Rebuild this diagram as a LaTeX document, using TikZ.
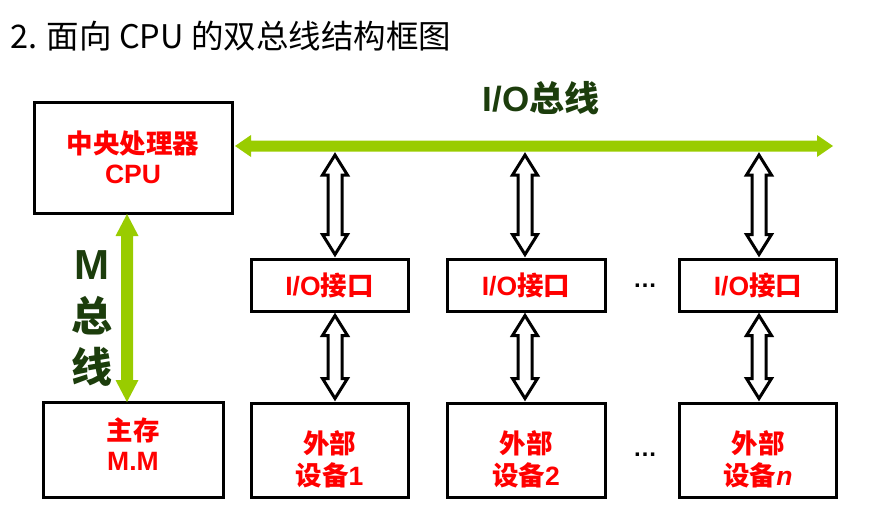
\documentclass[tikz,border=0pt]{standalone}
\usepackage{fontspec}
\setmainfont{Noto Sans CJK SC}
\newfontfamily\arialf{Liberation Sans}
\usetikzlibrary{calc}
\definecolor{busgreen}{HTML}{99CC00}
\definecolor{labgreen}{HTML}{1C3D0C}
\definecolor{boxred}{HTML}{FF0000}
% hollow vertical double arrow between two points (first above second)
\newcommand\hollowarrow[2]{%
  \draw[hollowarr] let \p1=(#1), \p2=(#2) in
   (\x1,\y1) -- (\x1+12.5pt,\y1-20pt) -- (\x1+7pt,\y1-20pt) -- (\x1+7pt,\y2+20pt)
   -- (\x1+12.5pt,\y2+20pt) -- (\x1,\y2) -- (\x1-12.5pt,\y2+20pt) -- (\x1-7pt,\y2+20pt)
   -- (\x1-7pt,\y1-20pt) -- (\x1-12.5pt,\y1-20pt) -- cycle;}
% green horizontal double arrow
\newcommand\greenhbus[2]{%
  \fill[busgreen] let \p1=(#1), \p2=(#2) in
   (\x1,\y1) -- (\x1+16pt,\y1+11pt) -- (\x1+16pt,\y1+5.5pt) -- (\x2-16pt,\y1+5.5pt)
   -- (\x2-16pt,\y1+11pt) -- (\x2,\y1) -- (\x2-16pt,\y1-11pt) -- (\x2-16pt,\y1-5.5pt)
   -- (\x1+16pt,\y1-5.5pt) -- (\x1+16pt,\y1-11pt) -- cycle;}
% green vertical double arrow
\newcommand\greenvbus[2]{%
  \fill[busgreen] let \p1=(#1), \p2=(#2) in
   (\x1,\y1) -- (\x1+11.5pt,\y1-22pt) -- (\x1+6pt,\y1-22pt) -- (\x1+6pt,\y2+22pt)
   -- (\x1+11.5pt,\y2+22pt) -- (\x1,\y2) -- (\x1-11.5pt,\y2+22pt) -- (\x1-6pt,\y2+22pt)
   -- (\x1-6pt,\y1-22pt) -- (\x1-11.5pt,\y1-22pt) -- cycle;}
\begin{document}
\begin{tikzpicture}[x=1pt,y=-1pt,
  box/.style={draw=black, line width=3pt, fill=white, inner sep=0pt,
    text=boxred, align=center, font=\bfseries\fontsize{26.5}{30}\selectfont},
  boxtext/.style={text=boxred, align=center, inner sep=0pt,
    font=\bfseries\fontsize{26.5}{32}\selectfont},
  hollowarr/.style={draw=black, line width=3pt, fill=white, line join=miter},
  buslabel/.style={text=labgreen, inner sep=0pt},
  dots/.style={inner sep=0pt, font=\arialf\bfseries\fontsize{24}{24}\selectfont}]
\useasboundingbox (0,0) rectangle (872,522);

% title
\node[anchor=west, inner sep=0pt, font=\fontsize{32.5}{36}\selectfont] (title) at (10,36)
  {2. 面向 CPU 的双总线结构框图};

% CPU and main memory
\node[box, minimum width=198pt, minimum height=111pt] (cpu) at (133,157.5)
  {中央处理器\\{\arialf CPU}};
\node[box, minimum width=180pt, minimum height=95pt] (mm) at (133,449.5) {};
\node[boxtext, font=\bfseries\fontsize{26.5}{30}\selectfont] (mmt) at (133,444) {主存\\{\arialf M.M}};

% I/O interfaces
\node[box, minimum width=157pt, minimum height=52pt] (io1) at (329.5,285) {{\arialf I/O}接口};
\node[box, minimum width=158pt, minimum height=52pt] (io2) at (526,285) {{\arialf I/O}接口};
\node[box, minimum width=157pt, minimum height=52pt] (io3) at (758,285) {{\arialf I/O}接口};

% devices
\node[box, minimum width=157pt, minimum height=94pt] (dev1) at (329.5,450) {};
\node[box, minimum width=158pt, minimum height=94pt] (dev2) at (526,450) {};
\node[box, minimum width=157pt, minimum height=94pt] (dev3) at (758,450) {};
\node[boxtext] (dt1) at (329.5,459) {外部\\设备{\arialf 1}};
\node[boxtext] (dt2) at (526,459) {外部\\设备{\arialf 2}};
\node[boxtext] (dt3) at (758,459) {外部\\设备{\arialf\itshape n}};

% ellipses
\node[dots, anchor=base] (d1) at (645,287) {…};
\node[dots, anchor=base] (d2) at (645,456) {…};

% I/O bus
\coordinate (busL) at (235,146);
\coordinate (busR) at (833,146);
\greenhbus{busL}{busR}
\node[buslabel, font=\bfseries\fontsize{35}{35}\selectfont] (iobus) at (541,98) {{\arialf I/O}总线};

% M bus
\coordinate (mtop) at (127,214);
\coordinate (mbot) at (127,402);
\greenvbus{mtop}{mbot}
\node[buslabel, font=\arialf\bfseries\fontsize{42}{42}\selectfont] (lm) at (92,265) {M};
\node[buslabel, font=\bfseries\fontsize{41}{41}\selectfont] (lz) at (92,316) {总};
\node[buslabel, font=\bfseries\fontsize{41}{41}\selectfont] (lx) at (92,367) {线};

% bus taps
\coordinate (t1) at (335,155);
\coordinate (t2) at (525,155);
\coordinate (t3) at (759,155);
\hollowarrow{t1}{$(io1.north)+(0,-3)$}
\hollowarrow{t2}{$(io2.north)+(0,-3)$}
\hollowarrow{t3}{$(io3.north)+(0,-3)$}
\hollowarrow{$(io1.south)+(5.5,3)$}{$(dev1.north)+(0,-3)$}
\hollowarrow{$(io2.south)+(-1,3)$}{$(dev2.north)+(0,-3)$}
\hollowarrow{$(io3.south)+(1,3)$}{$(dev3.north)+(0,-3)$}
\end{tikzpicture}
\end{document}
